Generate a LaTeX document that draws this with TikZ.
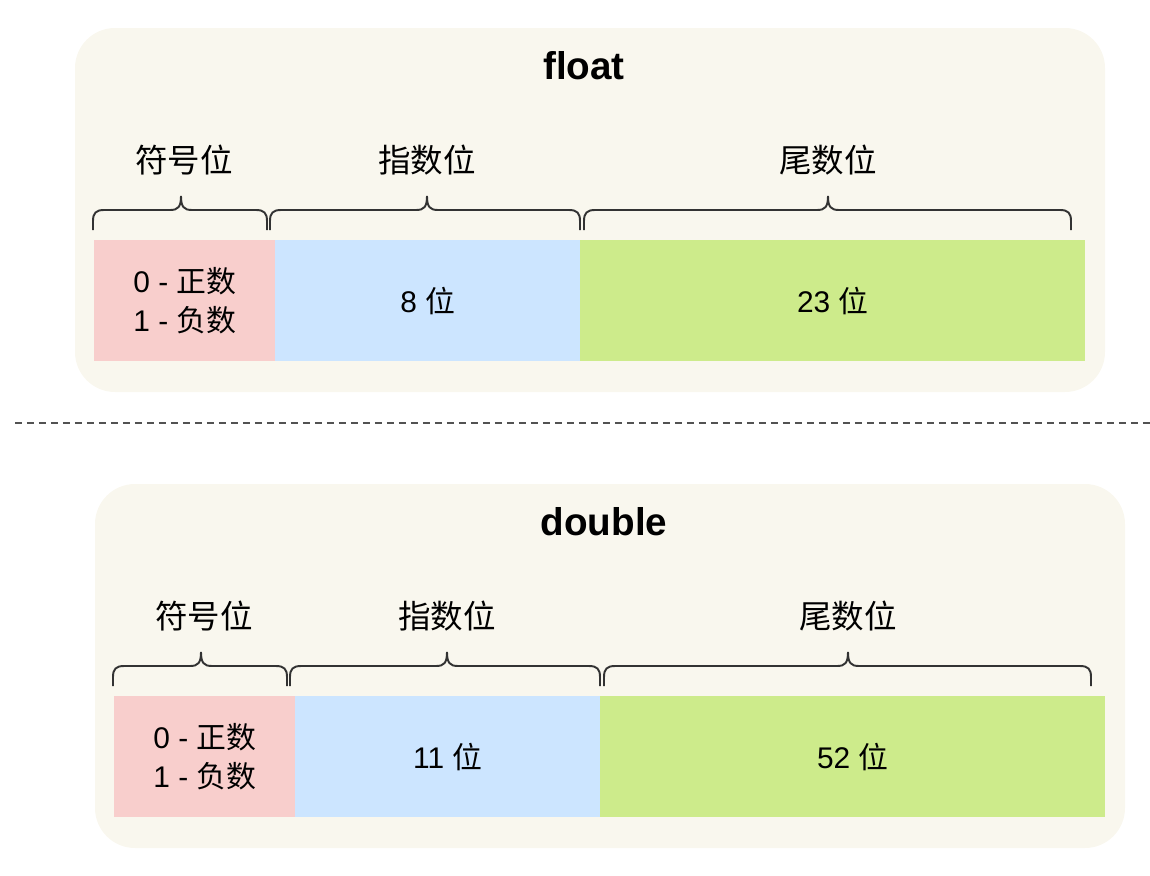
\documentclass[tikz,border=0pt]{standalone}
\usepackage{fontspec}
\setmainfont{Liberation Sans}
\newfontfamily\cjk{Noto Sans CJK SC}
\definecolor{panelbg}{RGB}{249,247,238}
\definecolor{signred}{RGB}{248,206,204}
\definecolor{expblue}{RGB}{204,229,255}
\definecolor{mangreen}{RGB}{205,235,139}
\definecolor{inkgray}{RGB}{51,51,51}
% brace from #1 to #2, tip at #3
\newcommand{\bitbrace}[3]{
    \draw[draw=inkgray, line width=1.1pt] (#1,230) -- (#1,221)
        .. controls (#1,213) and (#1+3,210) .. (#1+11,210) -- (#3-11,210)
        .. controls (#3-3,210) and (#3,207) .. (#3,196)
        .. controls (#3,207) and (#3+3,210) .. (#3+11,210) -- (#2-11,210)
        .. controls (#2-3,210) and (#2,213) .. (#2,221) -- (#2,230);
}

\begin{document}
\begin{tikzpicture}[x=0.02cm,y=-0.02cm,
        panel/.style={fill=panelbg, rounded corners=0.8cm},
        bar/.style={anchor=north west, minimum height=2.42cm, inner sep=0pt, align=center,
            font=\fontsize{17}{22}\selectfont},
        title/.style={font=\fontsize{22}{26}\selectfont\bfseries},
        part/.style={font=\fontsize{18.5}{22}\selectfont\cjk}]
        \useasboundingbox (0,0) rectangle (1150,876);
        \foreach \tname/\dx/\dy/\ebits/\mbits in {float/0/0/8/23, double/20/456/11/52}{
            \begin{scope}[shift={(\dx,\dy)}]
                \fill[panel] (75,28) rectangle (1105,392);
                \node[title] (title-\tname) at (584,66) {\tname};
                \node[part] (signlbl-\tname) at (184,160) {符号位};
                \node[part] (explbl-\tname) at (427,160) {指数位};
                \node[part] (manlbl-\tname) at (828,160) {尾数位};
                \bitbrace{93}{267}{181}
                \bitbrace{270}{580}{427}
                \bitbrace{584}{1071}{828}
                \node[bar, fill=signred, minimum width=3.62cm] (sign-\tname) at (94,240)
                    {0 - {\cjk 正数}\\1 - {\cjk 负数}};
                \node[bar, fill=expblue, minimum width=6.1cm] (exp-\tname) at (275,240)
                    {\ebits\ {\cjk 位}};
                \node[bar, fill=mangreen, minimum width=10.1cm] (man-\tname) at (580,240)
                    {\mbits\ {\cjk 位}};
            \end{scope}
        }
        \coordinate (cut-l) at (15,423);
        \coordinate (cut-r) at (1150,423);
        \draw[inkgray!85, line width=1.1pt, dash pattern=on 0.14cm off 0.1cm] (cut-l) -- (cut-r);
    \end{tikzpicture}
\end{document}
